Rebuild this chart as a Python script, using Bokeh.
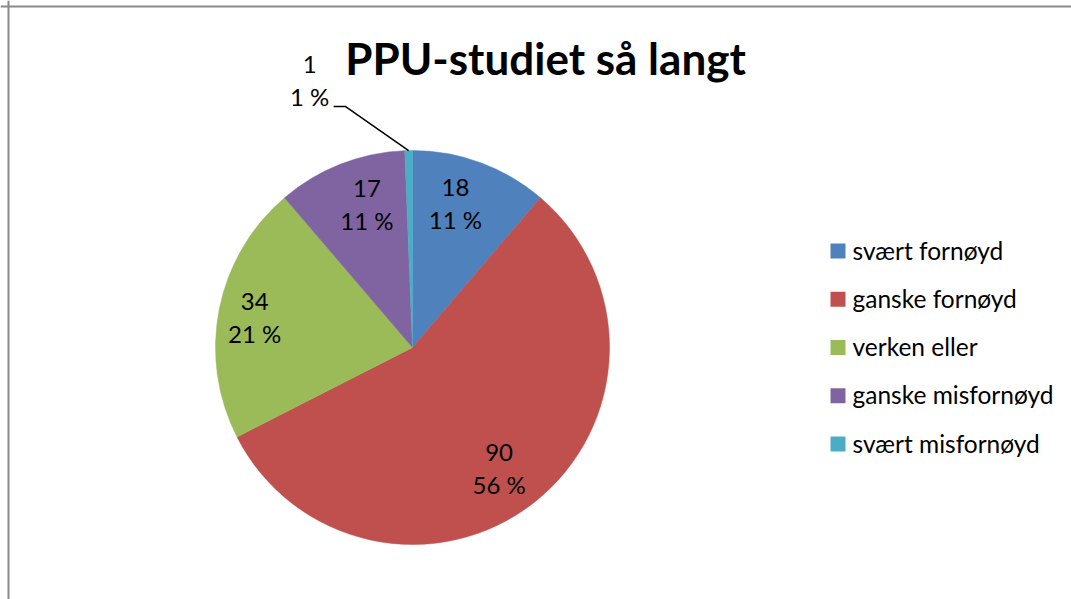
import numpy as np
from bokeh.plotting import figure
from bokeh.models import Range1d, Span, ColumnDataSource
from bokeh.core.properties import value
from bokeh.embed import file_html
from bokeh.resources import INLINE

# ---- data ----
title_text = "PPU-studiet så langt"
categories = ["svært fornøyd", "ganske fornøyd", "verken eller", "ganske misfornøyd", "svært misfornøyd"]
counts = [18, 90, 34, 17, 1]
colors = ["#4F81BD", "#C0504D", "#9BBB59", "#8064A2", "#4BACC6"]

# ---- layout (page pixel coordinates; data y = -page y) ----
W, H = 1071, 599
FONT = "Lato"
CX, CY, R = 412.0, 347.0, 197.0
LABEL_RX0, LABEL_RX1, LABEL_RY = 104.0, 58.0, 154.0
LBL_SIZE, TITLE_SIZE, LEG_SIZE = 24, 44, 24.5
BL = 0.36  # baseline correction (fraction of font size)

p = figure(width=W, height=H, output_backend="svg", toolbar_location=None,
           x_range=Range1d(0, W), y_range=Range1d(-H, 0),
           x_axis_location=None, y_axis_location=None, min_border=0)
p.grid.visible = False
p.outline_line_color = None
p.background_fill_color = "white"
p.border_fill_color = "white"

# chart frame (top and left edges visible)
p.add_layout(Span(location=8, dimension="height", line_color="#8a8a8a", line_width=2))
p.add_layout(Span(location=-6, dimension="width", line_color="#8a8a8a", line_width=2))

# ---- pie ----
vals = np.array(counts, dtype=float)
total = vals.sum()
cum = np.concatenate([[0.0], np.cumsum(vals)])
start = np.pi / 2 - 2 * np.pi * cum[:-1] / total
end = np.pi / 2 - 2 * np.pi * cum[1:] / total
mid = (start + end) / 2
pct = [f"{int(round(100 * v / total))} %" for v in vals]

src = ColumnDataSource(dict(start=start, end=end, color=colors, cat=categories))
p.wedge(x=CX, y=-CY, radius=R, radius_units="screen", start_angle="start", end_angle="end",
        direction="clock", fill_color="color", line_color="color", line_width=0.5, source=src)

# ---- data labels ----
lc = BL * LBL_SIZE
in_x, in_y1, in_y2, in_v, in_p = [], [], [], [], []
out_x, out_y1, out_y2, out_v, out_p = [], [], [], [], []
lead_xs, lead_ys = [], []
for i, v in enumerate(vals):
    frac = v / total
    if frac >= 0.03:
        c, s = np.cos(mid[i]), np.sin(mid[i])
        px = CX + (LABEL_RX0 + LABEL_RX1 * abs(c)) * c
        py = CY - LABEL_RY * s
        in_x.append(px)
        in_y1.append(-(py - 7 - lc))
        in_y2.append(-(py + 25 - lc))
        in_v.append(str(counts[i]))
        in_p.append(pct[i])
    else:
        ex = CX + R * np.cos(mid[i])
        ey = CY - R * np.sin(mid[i])
        bx, by = ex - 63, ey - 44
        tx = bx - 12
        lead_xs.append([ex, bx, tx])
        lead_ys.append([-ey, -by, -by])
        lx = tx - 24
        ly = by - 24
        out_x.append(lx)
        out_y1.append(-(ly - 9 - lc))
        out_y2.append(-(ly + 23 - lc))
        out_v.append(str(counts[i]))
        out_p.append(pct[i])

lbl_style = dict(text_font=value(FONT), text_font_size=f"{LBL_SIZE}px", text_color="#000000",
                 text_align="center", text_baseline="alphabetic")
p.text(x=in_x, y=in_y1, text=in_v, **lbl_style)
p.text(x=in_x, y=in_y2, text=in_p, **lbl_style)
if out_x:
    p.multi_line(xs=lead_xs, ys=lead_ys, line_color="#000000", line_width=1.5)
    p.text(x=out_x, y=out_y1, text=out_v, **lbl_style)
    p.text(x=out_x, y=out_y2, text=out_p, **lbl_style)

# ---- title ----
p.text(x=[545], y=[-(73 - BL * TITLE_SIZE)], text=[title_text], text_font=value(FONT),
       text_font_size=f"{TITLE_SIZE}px", text_font_style="bold", text_color="#000000",
       text_align="center", text_baseline="alphabetic")

# ---- legend ----
LEG_X, LEG_Y0, LEG_DY = 837.5, 250.5, 48.25
leg_y = [-(LEG_Y0 + i * LEG_DY) for i in range(len(categories))]
p.rect(x=[LEG_X] * len(categories), y=leg_y, width=15, height=15,
       width_units="screen", height_units="screen", fill_color=colors, line_color=None)
p.text(x=[LEG_X + 14.5] * len(categories), y=[y - 8 + BL * LEG_SIZE for y in leg_y],
       text=categories, text_font=value(FONT), text_font_size=f"{LEG_SIZE}px",
       text_color="#000000", text_align="left", text_baseline="alphabetic")

open("out.html", "w").write(file_html(p, INLINE))
